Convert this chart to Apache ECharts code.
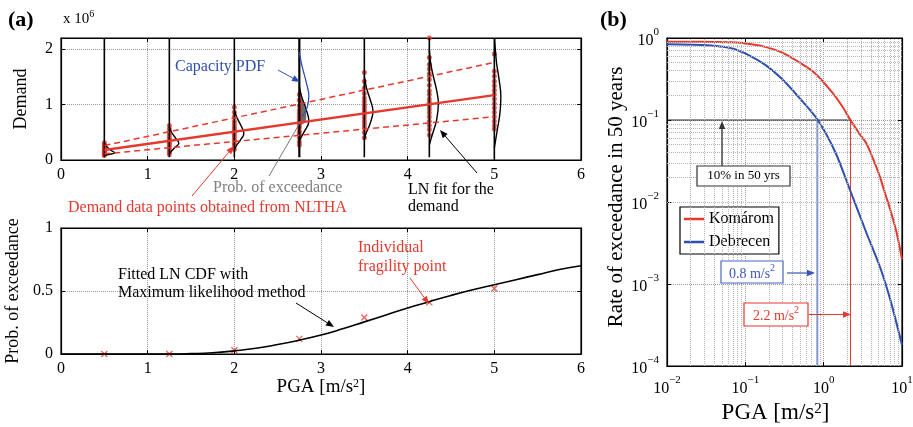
<!DOCTYPE html>
<html>
<head>
<meta charset="utf-8">
<script src="https://cdn.jsdelivr.net/npm/echarts@6.0.0/dist/echarts.min.js"></script>
<style>
  html, body { margin: 0; padding: 0; background: #fff; }
  #chart { width: 913px; height: 427px; }
</style>
</head>
<body>
<div id="chart"></div>
<script>
// ---- (a) top: demand (x 10^6) at each PGA level ----
const stripePga = [0.5, 1.25, 2, 2.75, 3.5, 4.25, 5];
const demand050 = [0.08, 0.1, 0.12, 0.13, 0.15, 0.16, 0.18, 0.2, 0.22, 0.25, 0.28, 0.31];
const demand125 = [0.1, 0.14, 0.18, 0.22, 0.26, 0.3, 0.33, 0.36, 0.4, 0.45, 0.5, 0.56, 0.62];
const demand200 = [0.19, 0.26, 0.3, 0.35, 0.4, 0.44, 0.48, 0.52, 0.56, 0.6, 0.65, 0.7, 0.78, 0.86, 0.95];
const demand275 = [0.27, 0.33, 0.4, 0.47, 0.52, 0.58, 0.63, 0.68, 0.72, 0.78, 0.84, 0.9, 0.98, 1.08, 1.18];
const demand350 = [0.4, 0.5, 0.58, 0.64, 0.7, 0.76, 0.82, 0.86, 0.9, 0.95, 1.0, 1.06, 1.12, 1.2, 1.3, 1.42, 1.58];
const demand425 = [0.45, 0.55, 0.62, 0.7, 0.78, 0.85, 0.92, 0.98, 1.04, 1.1, 1.18, 1.25, 1.35, 1.45, 1.55, 1.64, 1.72, 1.85, 2.2];
const demand500 = [0.56, 0.62, 0.7, 0.78, 0.86, 0.94, 1.02, 1.1, 1.18, 1.26, 1.34, 1.42, 1.51, 1.6, 1.91];

// LN fit lines (median, +/- sigma)
const fitPga = [0.5, 5];
const fitMedian = [0.18, 1.17];
const fitUpper = [0.26, 1.76];
const fitLower = [0.11, 0.78];

// demand PDFs drawn sideways: [demand, offset in PGA]
const pdf050 = [[0.31, 0], [0.24, 0.03], [0.17, 0.08], [0.13, 0.12], [0.1, 0.05], [0.085, 0]];
const pdf125 = [[0.6, 0], [0.5, 0.025], [0.4, 0.07], [0.3, 0.11], [0.22, 0.06], [0.11, 0]];
const pdf200 = [[0.91, 0], [0.78, 0.025], [0.64, 0.07], [0.48, 0.11], [0.36, 0.07], [0.25, 0.02], [0.18, 0]];
const pdf275 = [[1.33, 0], [1.15, 0.025], [0.95, 0.07], [0.7, 0.11], [0.52, 0.06], [0.36, 0]];
const pdf350 = [[1.51, 0], [1.3, 0.025], [1.1, 0.065], [0.88, 0.1], [0.65, 0.065], [0.48, 0.02], [0.36, 0]];
const pdf425 = [[2.0, 0], [1.75, 0.015], [1.51, 0.046], [1.25, 0.085], [1.03, 0.104], [0.73, 0.085], [0.42, 0.027], [0.27, 0]];
const pdf500 = [[2.2, 0.003], [1.76, 0.025], [1.45, 0.055], [1.15, 0.075], [0.85, 0.065], [0.55, 0.035], [0.22, 0]];
const capacityPdf = [[1.94, 0], [1.7, 0.03], [1.4, 0.08], [1.15, 0.11], [0.95, 0.09], [0.82, 0.05], [0.79, 0.03]];
const overlapFill = [[1.15, 0], [1.05, 0.04], [0.9, 0.07], [0.78, 0.08], [0.67, 0.06], [0.64, 0]];

// ---- (a) bottom: fragility ----
const cdfPga = [0, 0.25, 0.5, 0.75, 1, 1.25, 1.5, 1.75, 2, 2.25, 2.5, 2.75, 3, 3.25, 3.5, 3.75, 4, 4.25, 4.5, 4.75, 5, 5.25, 5.5, 5.75, 6];
const cdfProb = [0, 0, 0, 0, 0, 0, 0.003, 0.01, 0.025, 0.045, 0.075, 0.11, 0.15, 0.2, 0.255, 0.31, 0.365, 0.415, 0.465, 0.51, 0.55, 0.59, 0.63, 0.67, 0.7];
const fragProb = [0, 0, 0.03, 0.12, 0.29, 0.41, 0.52];

// ---- (b) hazard curves ----
const komaromPga = [0.01, 0.02, 0.04, 0.07, 0.12, 0.18, 0.3, 0.48, 0.78, 1.27, 1.7, 2.2, 2.8, 3.5, 4.3, 5.25, 6.2, 7.1, 8.5, 10];
const komaromRate = [0.9, 0.9, 0.895, 0.885, 0.84, 0.78, 0.66, 0.51, 0.37, 0.22, 0.15, 0.1, 0.07, 0.052, 0.033, 0.02, 0.012, 0.008, 0.0043, 0.002];
const debrecenPga = [0.01, 0.02, 0.04, 0.07, 0.11, 0.18, 0.29, 0.48, 0.84, 1.4, 2.17, 3.55, 5.25, 7.1, 10];
const debrecenRate = [0.84, 0.83, 0.805, 0.74, 0.62, 0.47, 0.32, 0.19, 0.1, 0.041, 0.014, 0.0041, 0.0016, 0.00064, 0.00018];
const designPga = [0.83, 2.2];
const designRate = 0.1;

const FONT = 'Liberation Serif';
const RED = '#e5392e';
const BLUE = '#2e4fae';
const LIGHTBLUE = '#7f99d6';

const demandSets = [demand050, demand125, demand200, demand275, demand350, demand425, demand500];
const pdfSets = [pdf050, pdf125, pdf200, pdf275, pdf350, pdf425, pdf500];
const lineBottoms = [0.05, 0.05, 0.05, 0.05, 0.05, 0.05, 0];

const chart = echarts.init(document.getElementById('chart'));

const tickStyle = { inside: true, length: 4, lineStyle: { color: '#000' } };
const axisLine = { show: true, onZero: false, lineStyle: { color: '#000', width: 1.2 } };
const labelStyle = { color: '#000', fontFamily: FONT, fontSize: 16 };
const gridLine = { show: true, lineStyle: { type: 'dotted', color: '#999' } };

function mirror(base, position) {
  return Object.assign({}, base, {
    position: position, name: '',
    axisLabel: { show: false }, splitLine: { show: false }
  });
}

function logLabel(v) {
  const e = Math.round(Math.log10(v));
  return '{b|10}{s|' + (e < 0 ? '\u2212' + (-e) : e) + '}';
}
const logRich = {
  b: { fontFamily: FONT, fontSize: 16, color: '#000', verticalAlign: 'bottom', lineHeight: 22 },
  s: { fontFamily: FONT, fontSize: 11, color: '#000', verticalAlign: 'top', lineHeight: 12 }
};

const xTop = { type: 'value', gridIndex: 0, min: 0, max: 6, interval: 1, axisLine, axisTick: tickStyle,
  axisLabel: Object.assign({ margin: 7 }, labelStyle), splitLine: gridLine };
const xBot = { type: 'value', gridIndex: 1, min: 0, max: 6, interval: 1, axisLine, axisTick: tickStyle,
  axisLabel: Object.assign({ margin: 7 }, labelStyle), splitLine: gridLine,
  name: 'PGA [m/s{s|2}]', nameLocation: 'middle', nameGap: 24,
  nameTextStyle: { fontFamily: FONT, fontSize: 19, color: '#000',
    rich: { s: { fontFamily: FONT, fontSize: 12, verticalAlign: 'top', lineHeight: 13 } } } };
const xLog = { type: 'log', logBase: 10, gridIndex: 2, min: 0.01, max: 10, axisLine, axisTick: tickStyle,
  axisLabel: { formatter: logLabel, rich: logRich, margin: 9 }, splitLine: gridLine,
  name: 'PGA [m/s{s|2}]', nameLocation: 'middle', nameGap: 34,
  nameTextStyle: { fontFamily: FONT, fontSize: 23, color: '#000', padding: [0, 18, 0, 0],
    rich: { s: { fontFamily: FONT, fontSize: 15, verticalAlign: 'top', lineHeight: 14 } } } };

const yTop = { type: 'value', gridIndex: 0, min: 0, max: 2.2, interval: 1, axisLine, axisTick: tickStyle,
  axisLabel: Object.assign({ margin: 8, showMaxLabel: false }, labelStyle), splitLine: gridLine,
  name: 'Demand', nameLocation: 'middle', nameGap: 31, nameRotate: 90,
  nameTextStyle: { fontFamily: FONT, fontSize: 18, color: '#000' } };
const yBot = { type: 'value', gridIndex: 1, min: 0, max: 1, interval: 0.5, axisLine, axisTick: tickStyle,
  axisLabel: Object.assign({ margin: 8 }, labelStyle), splitLine: gridLine,
  name: 'Prob. of exceedance', nameLocation: 'middle', nameGap: 31, nameRotate: 90,
  nameTextStyle: { fontFamily: FONT, fontSize: 18, color: '#000' } };
const yLog = { type: 'log', logBase: 10, gridIndex: 2, min: 0.0001, max: 1, axisLine, axisTick: tickStyle,
  axisLabel: { formatter: logLabel, rich: logRich, margin: 8 }, splitLine: gridLine,
  name: 'Rate of exceedance in 50 years', nameLocation: 'middle', nameGap: 40, nameRotate: 90,
  nameTextStyle: { fontFamily: FONT, fontSize: 21, color: '#000', padding: [0, 0, 0, 10] } };

const series = [];

// vertical lines + sideways PDFs
stripePga.forEach((x, i) => {
  series.push({
    type: 'line', xAxisIndex: 0, yAxisIndex: 0, symbol: 'none', silent: true,
    lineStyle: { color: '#000', width: i === 3 ? 2.2 : 1.6 },
    data: [[x, lineBottoms[i]], [x, 2.2]]
  });
  series.push({
    type: 'line', xAxisIndex: 0, yAxisIndex: 0, symbol: 'none', smooth: 0.4, silent: true,
    lineStyle: { color: '#000', width: 1.4 },
    data: pdfSets[i].map(p => [x + p[1], p[0]])
  });
});

// overlap area of demand and capacity at PGA 2.75
series.push({
  type: 'custom', xAxisIndex: 0, yAxisIndex: 0, silent: true, data: [0],
  renderItem: (params, api) => ({
    type: 'polygon',
    shape: { points: overlapFill.map(p => api.coord([stripePga[3] + p[1], p[0]])), smooth: 0.3 },
    style: { fill: '#6a6a6a' }
  })
});
series.push({
  type: 'line', xAxisIndex: 0, yAxisIndex: 0, symbol: 'none', smooth: 0.4, silent: true,
  lineStyle: { color: BLUE, width: 1.3 },
  data: capacityPdf.map(p => [stripePga[3] + p[1], p[0]])
});

// demand data points
const pts = [];
demandSets.forEach((arr, i) => arr.forEach(d => pts.push([stripePga[i], d])));
series.push({
  type: 'scatter', xAxisIndex: 0, yAxisIndex: 0, symbolSize: 5, silent: true,
  itemStyle: { color: RED }, data: pts
});

// fit lines
series.push({
  type: 'line', xAxisIndex: 0, yAxisIndex: 0, symbol: 'none', silent: true,
  lineStyle: { color: RED, width: 2.4 }, data: fitPga.map((x, i) => [x, fitMedian[i]])
});
[fitUpper, fitLower].forEach(arr => series.push({
  type: 'line', xAxisIndex: 0, yAxisIndex: 0, symbol: 'none', silent: true,
  lineStyle: { color: RED, width: 1.5, type: [6, 4] }, data: fitPga.map((x, i) => [x, arr[i]])
}));

// fragility curve
series.push({
  type: 'line', xAxisIndex: 1, yAxisIndex: 1, symbol: 'none', smooth: true, silent: true,
  lineStyle: { color: '#000', width: 1.6 }, data: cdfPga.map((x, i) => [x, cdfProb[i]])
});
series.push({
  type: 'scatter', xAxisIndex: 1, yAxisIndex: 1, silent: true,
  symbol: 'path://M0,0L10,10M10,0L0,10', symbolSize: 6,
  itemStyle: { color: 'none', borderColor: RED, borderWidth: 1.3 },
  data: stripePga.map((x, i) => [x, fragProb[i]])
});

// (b) minor log grid
const minorX = [], minorY = [];
[0.01, 0.1, 1].forEach(d => { for (let k = 2; k <= 9; k++) minorX.push(+(k * d).toPrecision(3)); });
[0.0001, 0.001, 0.01, 0.1].forEach(d => { for (let k = 2; k <= 9; k++) minorY.push(+(k * d).toPrecision(3)); });

series.push({
  type: 'line', xAxisIndex: 2, yAxisIndex: 2, symbol: 'none', silent: true,
  lineStyle: { color: '#222', width: 1.2 },
  data: [[0.01, designRate], [designPga[1], designRate]],
  markLine: {
    silent: true, symbol: 'none', animation: false, label: { show: false },
    lineStyle: { type: 'dotted', color: '#b5b5b5', width: 1 },
    data: minorX.map(v => ({ xAxis: v })).concat(minorY.map(v => ({ yAxis: v })))
  }
});
series.push({
  type: 'line', xAxisIndex: 2, yAxisIndex: 2, symbol: 'none', silent: true,
  lineStyle: { color: LIGHTBLUE, width: 2 },
  data: [[designPga[0], 0.0001], [designPga[0], designRate]]
});
series.push({
  type: 'line', xAxisIndex: 2, yAxisIndex: 2, symbol: 'none', silent: true,
  lineStyle: { color: RED, width: 1 },
  data: [[designPga[1], 0.0001], [designPga[1], designRate]]
});
series.push({
  name: 'Komárom', type: 'line', xAxisIndex: 2, yAxisIndex: 2, symbol: 'none', smooth: 0.3,
  lineStyle: { color: RED, width: 2 }, itemStyle: { color: RED },
  data: komaromPga.map((x, i) => [x, komaromRate[i]])
});
series.push({
  name: 'Debrecen', type: 'line', xAxisIndex: 2, yAxisIndex: 2, symbol: 'none', smooth: 0.3,
  lineStyle: { color: BLUE, width: 2 }, itemStyle: { color: BLUE },
  data: debrecenPga.map((x, i) => [x, debrecenRate[i]])
});

// annotations
function arrow(x1, y1, x2, y2, color, w) {
  const a = Math.atan2(y2 - y1, x2 - x1);
  const L = 8, W = 3.2;
  const bx = x2 - L * Math.cos(a), by = y2 - L * Math.sin(a);
  const px = -Math.sin(a) * W, py = Math.cos(a) * W;
  return [
    { type: 'line', z: 50, shape: { x1: x1, y1: y1, x2: bx, y2: by }, style: { stroke: color, lineWidth: w || 1 } },
    { type: 'polygon', z: 50, shape: { points: [[x2, y2], [bx + px, by + py], [bx - px, by - py]] }, style: { fill: color } }
  ];
}
function label(x, y, text, color, size, extra) {
  return Object.assign({
    type: 'text', x: x, y: y, z: 60,
    style: Object.assign({ text: text, fill: color, fontFamily: FONT, fontSize: size, verticalAlign: 'middle',
      rich: { s: { fontFamily: FONT, fontSize: Math.round(size * 0.68), fill: color, verticalAlign: 'top', lineHeight: 11 },
              n: { fontFamily: FONT, fontSize: size, fill: color, verticalAlign: 'bottom', lineHeight: 18 } } }, extra || {})
  });
}
function box(x, y, w, h, color) {
  return { type: 'rect', z: 55, shape: { x: x, y: y, width: w, height: h }, style: { fill: '#fff', stroke: color, lineWidth: 1.2 } };
}

const graphics = [
  label(8, 20, '(a)', '#000', 22, { fontWeight: 'bold' }),
  label(600, 20, '(b)', '#000', 22, { fontWeight: 'bold' }),
  label(63, 18, '{n|x 10}{s|6}', '#000', 15),
  label(175, 67, 'Capacity PDF', BLUE, 16),
  ...arrow(278, 70, 300, 82, BLUE, 1),
  { type: 'line', z: 50, shape: { x1: 269, y1: 176, x2: 301, y2: 121 }, style: { stroke: '#777', lineWidth: 1 } },
  label(213, 188, 'Prob. of exceedance', '#808080', 16),
  ...arrow(192, 196, 234, 146, RED, 1),
  label(68, 208, 'Demand data points obtained from NLTHA', RED, 16),
  ...arrow(477, 173, 440, 130, '#000', 1),
  label(408, 190, 'LN fit for the', '#000', 16),
  label(408, 207, 'demand', '#000', 16),
  label(118, 275, 'Fitted LN CDF with', '#000', 16),
  label(118, 293, 'Maximum likelihood method', '#000', 16),
  ...arrow(296, 303, 334, 327, '#000', 1),
  label(358, 248, 'Individual', RED, 16),
  label(358, 267, 'fragility point', RED, 16),
  ...arrow(410, 278, 429, 304, RED, 1),
  box(697, 166, 93, 20, '#333'),
  label(743.5, 176, '10% in 50 yrs', '#000', 13, { align: 'center' }),
  ...arrow(722, 166, 722, 121, '#333', 1.3),
  box(721, 261, 62, 22, '#4a66c4'),
  label(752, 272, '{n|0.8 m/s}{s|2}', '#3a56b8', 14, { align: 'center' }),
  ...arrow(787, 273, 815, 273, '#3a56b8', 1.2),
  box(744, 303, 64, 23, RED),
  label(776, 314.5, '{n|2.2 m/s}{s|2}', RED, 14, { align: 'center' }),
  ...arrow(809, 314.5, 851, 314.5, RED, 1.2)
];

chart.setOption({
  animation: false,
  backgroundColor: '#fff',
  textStyle: { fontFamily: FONT },
  grid: [
    { left: 61, top: 38, width: 520, height: 122, show: true, borderColor: '#000', borderWidth: 1.2, outerBoundsMode: 'none' },
    { left: 61, top: 228, width: 520, height: 126, show: true, borderColor: '#000', borderWidth: 1.2, outerBoundsMode: 'none' },
    { left: 667, top: 38, width: 235, height: 328, show: true, borderColor: '#000', borderWidth: 1.2, outerBoundsMode: 'none' }
  ],
  xAxis: [xTop, xBot, xLog, mirror(xTop, 'top'), mirror(xBot, 'top'), mirror(xLog, 'top')],
  yAxis: [yTop, yBot, yLog, mirror(yTop, 'right'), mirror(yBot, 'right'), mirror(yLog, 'right')],
  legend: {
    data: ['Komárom', 'Debrecen'], orient: 'vertical', left: 680, top: 207,
    icon: 'rect', itemWidth: 20, itemHeight: 2.5, itemGap: 7, padding: [4, 5, 4, 4],
    backgroundColor: '#fff', borderColor: '#000', borderWidth: 1.2,
    textStyle: { fontFamily: FONT, fontSize: 16, color: '#000' }
  },
  series: series,
  graphic: graphics
});
</script>
</body>
</html>
